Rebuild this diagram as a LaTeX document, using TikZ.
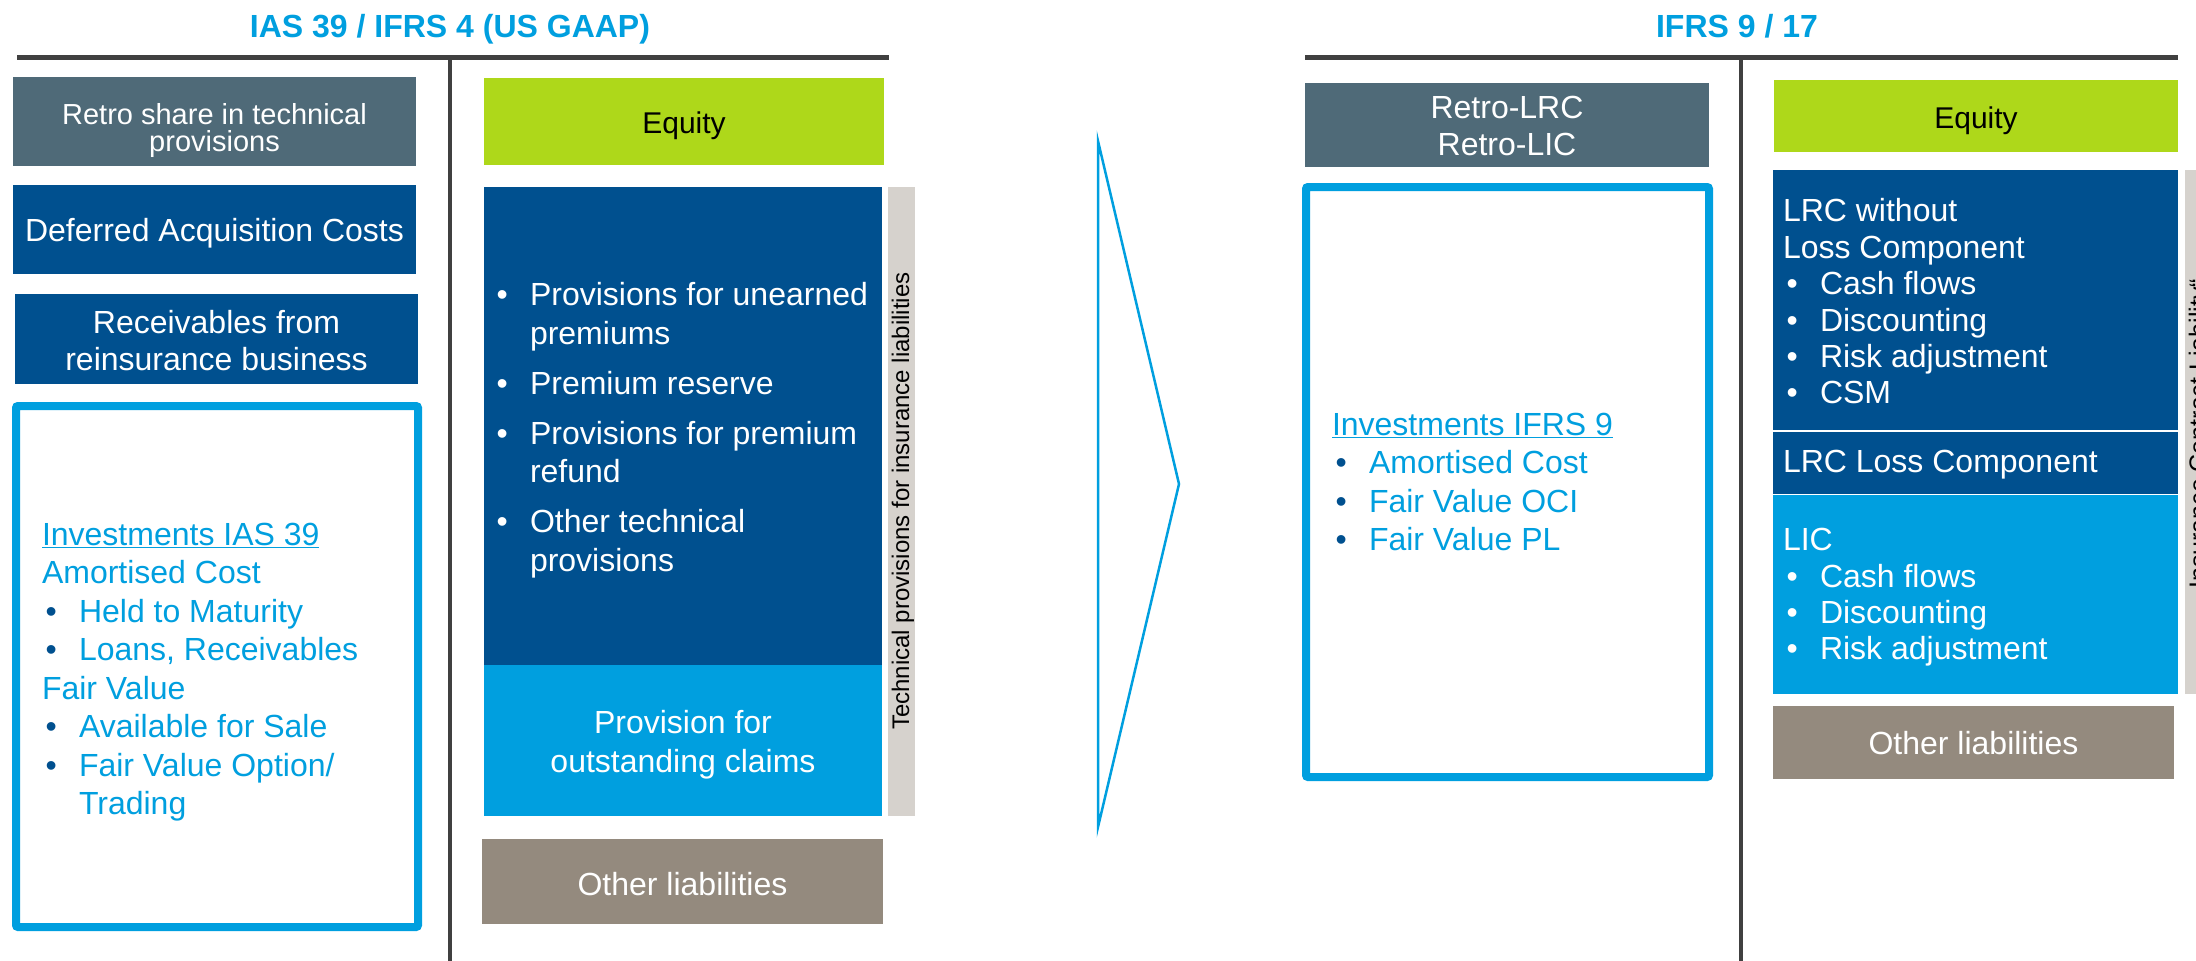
\documentclass[tikz,border=0pt]{standalone}
\usepackage{fontspec}
\setmainfont{Liberation Sans}
\definecolor{slate}{HTML}{4F6A78}
\definecolor{dblue}{HTML}{00508F}
\definecolor{lblue}{HTML}{009FDF}
\definecolor{lime}{HTML}{AED81A}
\definecolor{taupe}{HTML}{948A7E}
\definecolor{barg}{HTML}{D6D2CD}
\definecolor{rulec}{HTML}{404040}
\newcommand{\fs}{\fontsize{32}{38.5}\selectfont}
\newcommand{\bul}[1]{\makebox[37pt][l]{\hspace{3.5pt}\textcolor{#1}{•}}}
\tikzset{
  box/.style={inner sep=0pt, outer sep=0pt, draw=none},
  lbl/.style={inner sep=0pt, outer sep=0pt, text=white, font=\fs, align=center},
  txt/.style={inner sep=0pt, outer sep=0pt, anchor=west, align=left, font=\fs},
  invbox/.style={draw=lblue, line width=8pt, rounded corners=2pt, fill=white},
  divider/.style={draw=rulec, line width=5pt},
  ttl/.style={inner sep=0pt, anchor=base, text=lblue, font=\fontsize{32}{36}\selectfont\bfseries},
  vlabel/.style={inner sep=0pt, rotate=90, text=black}
}
\begin{document}
\begin{tikzpicture}[x=1pt,y=-1pt]
\useasboundingbox (0,0) rectangle (2196,961);
% titles
\node[ttl] (titleL) at (450,37) {IAS 39 / IFRS 4 (US GAAP)};
\node[ttl] (titleR) at (1737,37) {IFRS 9 / 17};
% dividers
\coordinate (hl1) at (17,57); \coordinate (hl2) at (889,57);
\coordinate (vl1) at (450,57); \coordinate (vl2) at (450,961);
\coordinate (hr1) at (1305,57); \coordinate (hr2) at (2178,57);
\coordinate (vr1) at (1741,57); \coordinate (vr2) at (1741,961);
\draw[divider] (hl1) -- (hl2);
\draw[divider, line width=4.5pt] (vl1) -- (vl2);
\draw[divider] (hr1) -- (hr2);
\draw[divider, line width=4.5pt] (vr1) -- (vr2);

% ---------- left: assets
\node[box, fill=slate, minimum width=403pt, minimum height=89pt] (retroL) at (214.5,121.5) {};
\node[lbl, font=\fontsize{29}{27}\selectfont] (retroLt) at (214.5,131) {Retro share in technical\\provisions};
\node[box, fill=dblue, minimum width=403pt, minimum height=89pt] (dac) at (214.5,229.5) {};
\node[lbl] (dact) at (214.5,233.5) {Deferred Acquisition Costs};
\node[box, fill=dblue, minimum width=403pt, minimum height=90pt] (recv) at (216.5,339) {};
\node[lbl, font=\fontsize{32}{37}\selectfont] (recvt) at (216.5,341) {Receivables from\\reinsurance business};
\coordinate (invLa) at (16,406); \coordinate (invLb) at (418,927);
\draw[invbox] (invLa) rectangle (invLb);
\node[txt, text=lblue] (invLt) at (42,672) {\underline{Investments IAS 39}\\
Amortised Cost\\
\bul{dblue}Held to Maturity\\
\bul{dblue}Loans, Receivables\\
Fair Value\\
\bul{dblue}Available for Sale\\
\bul{dblue}Fair Value Option/\\
\hspace*{37pt}Trading};

% ---------- left: liabilities
\node[box, fill=lime, minimum width=400pt, minimum height=87pt] (eqL) at (684,121.5) {};
\node[lbl, text=black, font=\fontsize{30}{36}\selectfont] (eqLt) at (684,125.5) {Equity};
\node[box, fill=dblue, minimum width=398pt, minimum height=478pt] (prov) at (683,426) {};
\node[txt, text=white] (provt) at (493,430) {\bul{white}Provisions for unearned\\
\hspace*{37pt}premiums\\[11.5pt]
\bul{white}Premium reserve\\[11.5pt]
\bul{white}Provisions for premium\\
\hspace*{37pt}refund\\[11.5pt]
\bul{white}Other technical\\
\hspace*{37pt}provisions};
\node[box, fill=lblue, minimum width=398pt, minimum height=151pt] (osc) at (683,740.5) {};
\node[lbl] (osct) at (683,744.5) {Provision for\\outstanding claims};
\node[box, fill=barg, minimum width=27pt, minimum height=629pt] (tpbar) at (901.5,501.5) {};
\node[vlabel, font=\fontsize{24}{28}\selectfont] (tplabel) at (903,501) {Technical provisions for insurance liabilities};
\node[box, fill=taupe, minimum width=401pt, minimum height=85pt] (othL) at (682.5,881.5) {};
\node[lbl] (othLt) at (682.5,884.5) {Other liabilities};

% ---------- chevron
\coordinate (ch1) at (1098,141); \coordinate (ch2) at (1179,484); \coordinate (ch3) at (1098,827);
\draw[lblue, line width=2.5pt, line join=miter] (ch1) -- (ch2) -- (ch3) -- cycle;

% ---------- right: assets
\node[box, fill=slate, minimum width=404pt, minimum height=84pt] (retroR) at (1507,125) {};
\node[lbl, font=\fontsize{32}{37}\selectfont] (retroRt) at (1507,125.5) {Retro-LRC\\Retro-LIC};
\coordinate (invRa) at (1306,187); \coordinate (invRb) at (1709,777);
\draw[invbox] (invRa) rectangle (invRb);
\node[txt, text=lblue] (invRt) at (1332,482) {\underline{Investments IFRS 9}\\
\bul{dblue}Amortised Cost\\
\bul{dblue}Fair Value OCI\\
\bul{dblue}Fair Value PL};

% ---------- right: liabilities
\node[box, fill=lime, minimum width=404pt, minimum height=72pt] (eqR) at (1976,116) {};
\node[lbl, text=black, font=\fontsize{30}{36}\selectfont] (eqRt) at (1976,120.5) {Equity};
\node[box, fill=dblue, minimum width=405pt, minimum height=260pt] (lrc) at (1975.5,300) {};
\node[txt, text=white, font=\fontsize{32}{36.4}\selectfont] (lrct) at (1783,301.5) {LRC without\\
Loss Component\\
\bul{white}Cash flows\\
\bul{white}Discounting\\
\bul{white}Risk adjustment\\
\bul{white}CSM};
\node[box, fill=dblue, minimum width=405pt, minimum height=62pt] (lrcl) at (1975.5,462.5) {};
\node[txt, text=white] (lrclt) at (1783,465) {LRC Loss Component};
\node[box, fill=lblue, minimum width=405pt, minimum height=199pt] (lic) at (1975.5,594.5) {};
\node[txt, text=white, font=\fontsize{32}{36.4}\selectfont] (lict) at (1783,597.5) {LIC\\
\bul{white}Cash flows\\
\bul{white}Discounting\\
\bul{white}Risk adjustment};
\node[box, fill=taupe, minimum width=401pt, minimum height=73pt] (othR) at (1973.5,742.5) {};
\node[lbl] (othRt) at (1973.5,743.5) {Other liabilities};
\begin{scope}
\clip (0,0) rectangle (2196,961);
\node[box, fill=barg, minimum width=27pt, minimum height=524pt] (icbar) at (2198.5,432) {};
\node[vlabel, font=\fontsize{25}{29}\selectfont] (iclabel) at (2200.5,438) {„Insurance Contract Liability“};
\end{scope}
\end{tikzpicture}
\end{document}
